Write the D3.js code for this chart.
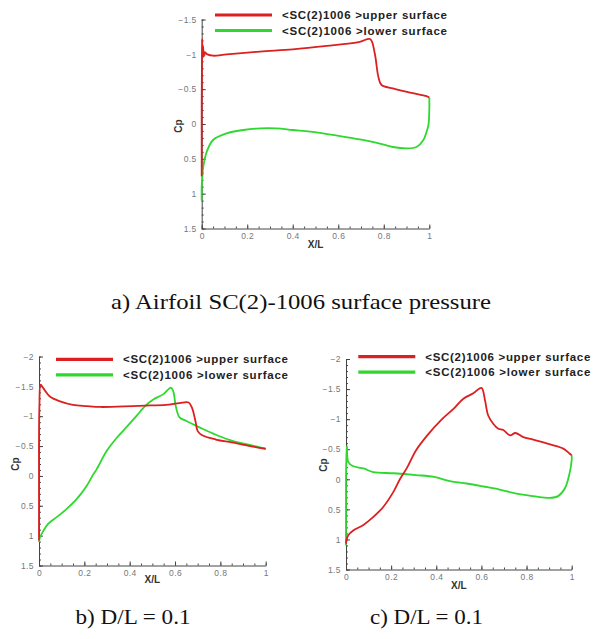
<!DOCTYPE html>
<html>
<head>
<meta charset="utf-8">
<script src="https://cdn.jsdelivr.net/npm/d3@7"></script>
<style>
  body { margin: 0; background: #fff; }
  svg { display: block; }
  .tick text { font-family: Arial, "Liberation Sans", sans-serif; font-size: 8.5px; fill: #777; letter-spacing: 0.4px; }
  .axis path, .axis line { stroke: #444; }
</style>
</head>
<body>
<svg id="chart" width="601" height="639"></svg>
<script>
// upper / lower surface Cp: [X/L, Cp]
var aUpper = [[0,0.75],[0,0.3],[0,-0.3],[0.001,-0.8],[0.002,-1.22],[0.004,-0.95],[0.006,-1.12],[0.009,-0.97],[0.013,-1.03],[0.025,-1.0],[0.05,-0.98],[0.11,-1.0],[0.256,-1.04],[0.40,-1.07],[0.55,-1.12],[0.695,-1.18],[0.74,-1.22],[0.76,-1.02],[0.776,-0.68],[0.79,-0.56],[0.84,-0.51],[0.915,-0.45],[0.988,-0.40],[1.0,-0.38]];
var aLower = [[0,1.1],[0,0.9],[0.003,0.75],[0.007,0.61],[0.022,0.40],[0.05,0.23],[0.11,0.134],[0.183,0.086],[0.256,0.062],[0.33,0.062],[0.40,0.086],[0.476,0.11],[0.55,0.144],[0.62,0.18],[0.695,0.22],[0.77,0.27],[0.84,0.33],[0.90,0.35],[0.944,0.33],[0.974,0.23],[0.988,0.11],[0.996,0.02],[1.0,-0.2],[1.0,-0.38]];

var bUpper = [[0,1.08],[0,0.5],[0,0],[0,-0.6],[0.002,-1.2],[0.007,-1.53],[0.019,-1.47],[0.048,-1.33],[0.093,-1.25],[0.15,-1.19],[0.21,-1.17],[0.27,-1.155],[0.415,-1.17],[0.49,-1.18],[0.56,-1.19],[0.62,-1.22],[0.66,-1.23],[0.675,-1.14],[0.69,-0.92],[0.70,-0.75],[0.72,-0.68],[0.78,-0.61],[0.85,-0.56],[0.93,-0.5],[1.0,-0.455]];
var bLower = [[0,1.11],[0.004,1.03],[0.019,0.92],[0.041,0.80],[0.078,0.69],[0.12,0.56],[0.166,0.39],[0.21,0.17],[0.24,-0.03],[0.254,-0.11],[0.299,-0.42],[0.343,-0.64],[0.387,-0.82],[0.431,-1.01],[0.471,-1.18],[0.504,-1.28],[0.549,-1.37],[0.582,-1.48],[0.592,-1.42],[0.605,-1.14],[0.62,-0.98],[0.65,-0.92],[0.71,-0.81],[0.78,-0.69],[0.86,-0.58],[0.93,-0.52],[1.0,-0.455]];

var cUpper = [[0,1.07],[0.003,1.0],[0.01,0.93],[0.032,0.85],[0.077,0.76],[0.12,0.63],[0.165,0.46],[0.21,0.21],[0.24,-0.01],[0.27,-0.19],[0.31,-0.48],[0.36,-0.73],[0.42,-0.98],[0.476,-1.17],[0.52,-1.34],[0.564,-1.43],[0.60,-1.52],[0.616,-1.31],[0.63,-1.06],[0.653,-0.92],[0.675,-0.84],[0.697,-0.82],[0.727,-0.73],[0.75,-0.77],[0.786,-0.70],[0.83,-0.66],[0.904,-0.58],[0.963,-0.51],[0.99,-0.43],[1.0,-0.40]];
var cLower = [[0,1.1],[0,0.5],[0,0],[0.002,-0.4],[0.004,-0.55],[0.01,-0.29],[0.03,-0.22],[0.077,-0.18],[0.12,-0.12],[0.21,-0.10],[0.31,-0.07],[0.39,-0.04],[0.46,0.03],[0.535,0.07],[0.61,0.12],[0.68,0.17],[0.756,0.24],[0.83,0.28],[0.904,0.31],[0.94,0.28],[0.97,0.15],[0.99,-0.09],[1.0,-0.32],[1.0,-0.40]];

var xTicks = [0, 0.2, 0.4, 0.6, 0.8, 1];
var aYTicks = [-1.5, -1, -0.5, 0, 0.5, 1, 1.5];
var bcYTicks = [-2, -1.5, -1, -0.5, 0, 0.5, 1, 1.5];
var legendLabels = ["<SC(2)1006 >upper surface", "<SC(2)1006 >lower surface"];
var captions = ["a) Airfoil SC(2)-1006 surface pressure", "b) D/L = 0.1", "c) D/L = 0.1"];

var red = "#dc2020", green = "#2ed82e";
var svg = d3.select("#chart");

function drawPanel(p) {
    var x = d3.scaleLinear().domain([0, 1]).range([p.x0, p.x1]);
    var y = d3.scaleLinear().domain(p.yDomain).range([p.y0, p.y1]);
    var g = svg.append("g");

    // minor ticks
    var xMinor = d3.range(0, 1.0001, 0.05);
    var yMinor = d3.range(p.yDomain[0], p.yDomain[1] + 0.0001, 0.1);
    g.append("g").attr("class", "axis").attr("transform", "translate(0," + p.y1 + ")")
        .call(d3.axisBottom(x).tickValues(xMinor).tickFormat("").tickSize(-2).tickSizeOuter(0))
        .select(".domain").remove();
    g.append("g").attr("class", "axis").attr("transform", "translate(" + p.x0 + ",0)")
        .call(d3.axisLeft(y).tickValues(yMinor).tickFormat("").tickSize(-2).tickSizeOuter(0))
        .select(".domain").remove();

    // major ticks
    g.append("g").attr("class", "axis").attr("transform", "translate(0," + p.y1 + ")")
        .call(d3.axisBottom(x).tickValues(xTicks).tickFormat(d3.format("")).tickSize(-4).tickSizeOuter(0).tickPadding(4));
    g.append("g").attr("class", "axis").attr("transform", "translate(" + p.x0 + ",0)")
        .call(d3.axisLeft(y).tickValues(p.yTicks).tickFormat(d3.format("")).tickSize(-4).tickSizeOuter(0).tickPadding(5));

    g.append("text").attr("x", (p.x0 + p.x1) / 2).attr("y", p.xLabelY)
        .attr("text-anchor", "middle")
        .style("font", "bold 10px Arial, 'Liberation Sans', sans-serif").style("fill", "#333")
        .text("X/L");
    g.append("text")
        .attr("transform", "translate(" + p.cpX + "," + p.cpY + ") rotate(-90)")
        .attr("text-anchor", "middle")
        .style("font", "bold 10px Arial, 'Liberation Sans', sans-serif").style("fill", "#333")
        .text("Cp");

    var line = d3.line()
        .x(function (d) { return x(d[0]); })
        .y(function (d) { return y(d[1]); })
        .curve(d3.curveCatmullRom.alpha(0.5));

    g.append("path").datum(p.lower).attr("d", line)
        .attr("fill", "none").attr("stroke", green).attr("stroke-width", 1.8);
    g.append("path").datum(p.upper).attr("d", line)
        .attr("fill", "none").attr("stroke", red).attr("stroke-width", 1.8);

    // legend
    var lg = g.append("g").attr("transform", "translate(" + p.legX + "," + p.legY + ")");
    [red, green].forEach(function (c, i) {
        lg.append("line").attr("x1", 0).attr("x2", 57).attr("y1", i * 15.5).attr("y2", i * 15.5)
            .attr("stroke", c).attr("stroke-width", 3.2);
        lg.append("text").attr("x", 67).attr("y", i * 15.5 + 4)
            .attr("textLength", 165).attr("lengthAdjust", "spacing")
            .style("font", "bold 11.5px Arial, 'Liberation Sans', sans-serif").style("fill", "#222")
            .text(legendLabels[i]);
    });
}

drawPanel({ x0: 201.7, x1: 429.3, y0: 19.5, y1: 228.5, yDomain: [-1.5, 1.5], yTicks: aYTicks,
    upper: aUpper, lower: aLower, xLabelY: 248, cpX: 181.5, cpY: 126, legX: 215, legY: 15 });
drawPanel({ x0: 39, x1: 265.7, y0: 356.5, y1: 565.5, yDomain: [-2, 1.5], yTicks: bcYTicks,
    upper: bUpper, lower: bLower, xLabelY: 583, cpX: 18.5, cpY: 464, legX: 56, legY: 359.3 });
drawPanel({ x0: 346, x1: 571.7, y0: 359, y1: 569.5, yDomain: [-2, 1.5], yTicks: bcYTicks,
    upper: cUpper, lower: cLower, xLabelY: 588.5, cpX: 326.5, cpY: 465, legX: 358.3, legY: 356.7 });

// captions
[[301, 308.5, 380], [133, 623.5, 115], [426.5, 623.5, 113]].forEach(function (pos, i) {
    svg.append("text").attr("x", pos[0]).attr("y", pos[1]).attr("text-anchor", "middle")
        .attr("textLength", pos[2]).attr("lengthAdjust", "spacingAndGlyphs")
        .style("font", "21px 'Liberation Serif', 'Times New Roman', serif").style("fill", "#111")
        .text(captions[i]);
});
</script>
</body>
</html>
